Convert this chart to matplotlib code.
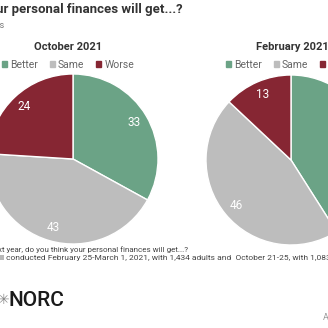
import matplotlib.pyplot as plt
from matplotlib.patches import Patch

plt.rcParams['font.family'] = ['Roboto', 'DejaVu Sans']

categories = ["Better", "Same", "Worse"]
oct_2021 = [33, 43, 24]
feb_2021 = [41, 46, 13]
colors = ["#6ba386", "#bdbdbd", "#862633"]

title = "In the next year, do you think your personal finances will get...?"
subtitle = "Percent of U.S. adults"
question = "Question: In the next year, do you think your personal finances will get...?"
source_head = "Source: AP-NORC po"
source_tail = ("ll conducted February 25-March 1, 2021, with 1,434 adults and  "
               "October 21-25, with 1,083 adults")

W = H = 328
fig = plt.figure(figsize=(3.28, 3.28), dpi=100)
ax = fig.add_axes([0, 0, 1, 1])


def y(px):
    # pixel row from the top -> data y
    return H - px


def draw_pie(values, cx, cy, label, tx):
    wedges, texts = ax.pie(values, colors=colors, startangle=90, counterclock=False,
                           center=(cx, y(cy)), radius=85, labels=[str(v) for v in values],
                           labeldistance=0.84, frame=True,
                           wedgeprops=dict(edgecolor="white", linewidth=1))
    for t in texts:
        t.set_color("white")
        t.set_fontsize(8.5)
        t.set_ha("center")
        t.set_va("center")
    ax.text(tx, y(47), label, ha="center", va="center", fontsize=8,
            fontweight="bold", color="#333333")
    handles = [Patch(color=c) for c in colors]
    ax.legend(handles, categories, loc="center", bbox_to_anchor=(tx, y(65)),
              bbox_transform=ax.transData, ncol=3, frameon=False, fontsize=7.5,
              handlelength=0.5, handleheight=0.5, handletextpad=0.3,
              columnspacing=1.1, labelcolor="#666666")
    return ax.get_legend()


leg1 = draw_pie(oct_2021, 73, 159, "October 2021", 68)
ax.add_artist(leg1)
draw_pie(feb_2021, 291, 160, "February 2021", 292)
ax.set_xlim(0, W)
ax.set_ylim(0, H)
ax.set_aspect("equal")
ax.axis("off")

ax.text(183, y(10), title, ha="right", va="center", fontsize=9.5,
        fontweight="bold", color="#333333")
ax.text(4, y(25), subtitle, ha="right", va="center", fontsize=6.5, color="#777777")

ax.text(188, y(250), question, ha="right", va="center", fontsize=5.8, color="#444444")
# source line: split so the wrap point sits at the left edge
ax.text(0, y(258), source_head, ha="right", va="center", fontsize=6.0, color="#444444")
ax.text(0, y(258), source_tail, ha="left", va="center", fontsize=6.0, color="#444444")

ax.text(3, y(300), "✳", ha="center", va="center", fontsize=10, color="#888888")
ax.text(9, y(300), "NORC", ha="left", va="center", fontsize=15,
        fontweight="medium", color="#1a1a1a")
ax.text(323, y(317), "AP", ha="left", va="center", fontsize=6.5, color="#999999")

fig.savefig("out.png", dpi=100)
